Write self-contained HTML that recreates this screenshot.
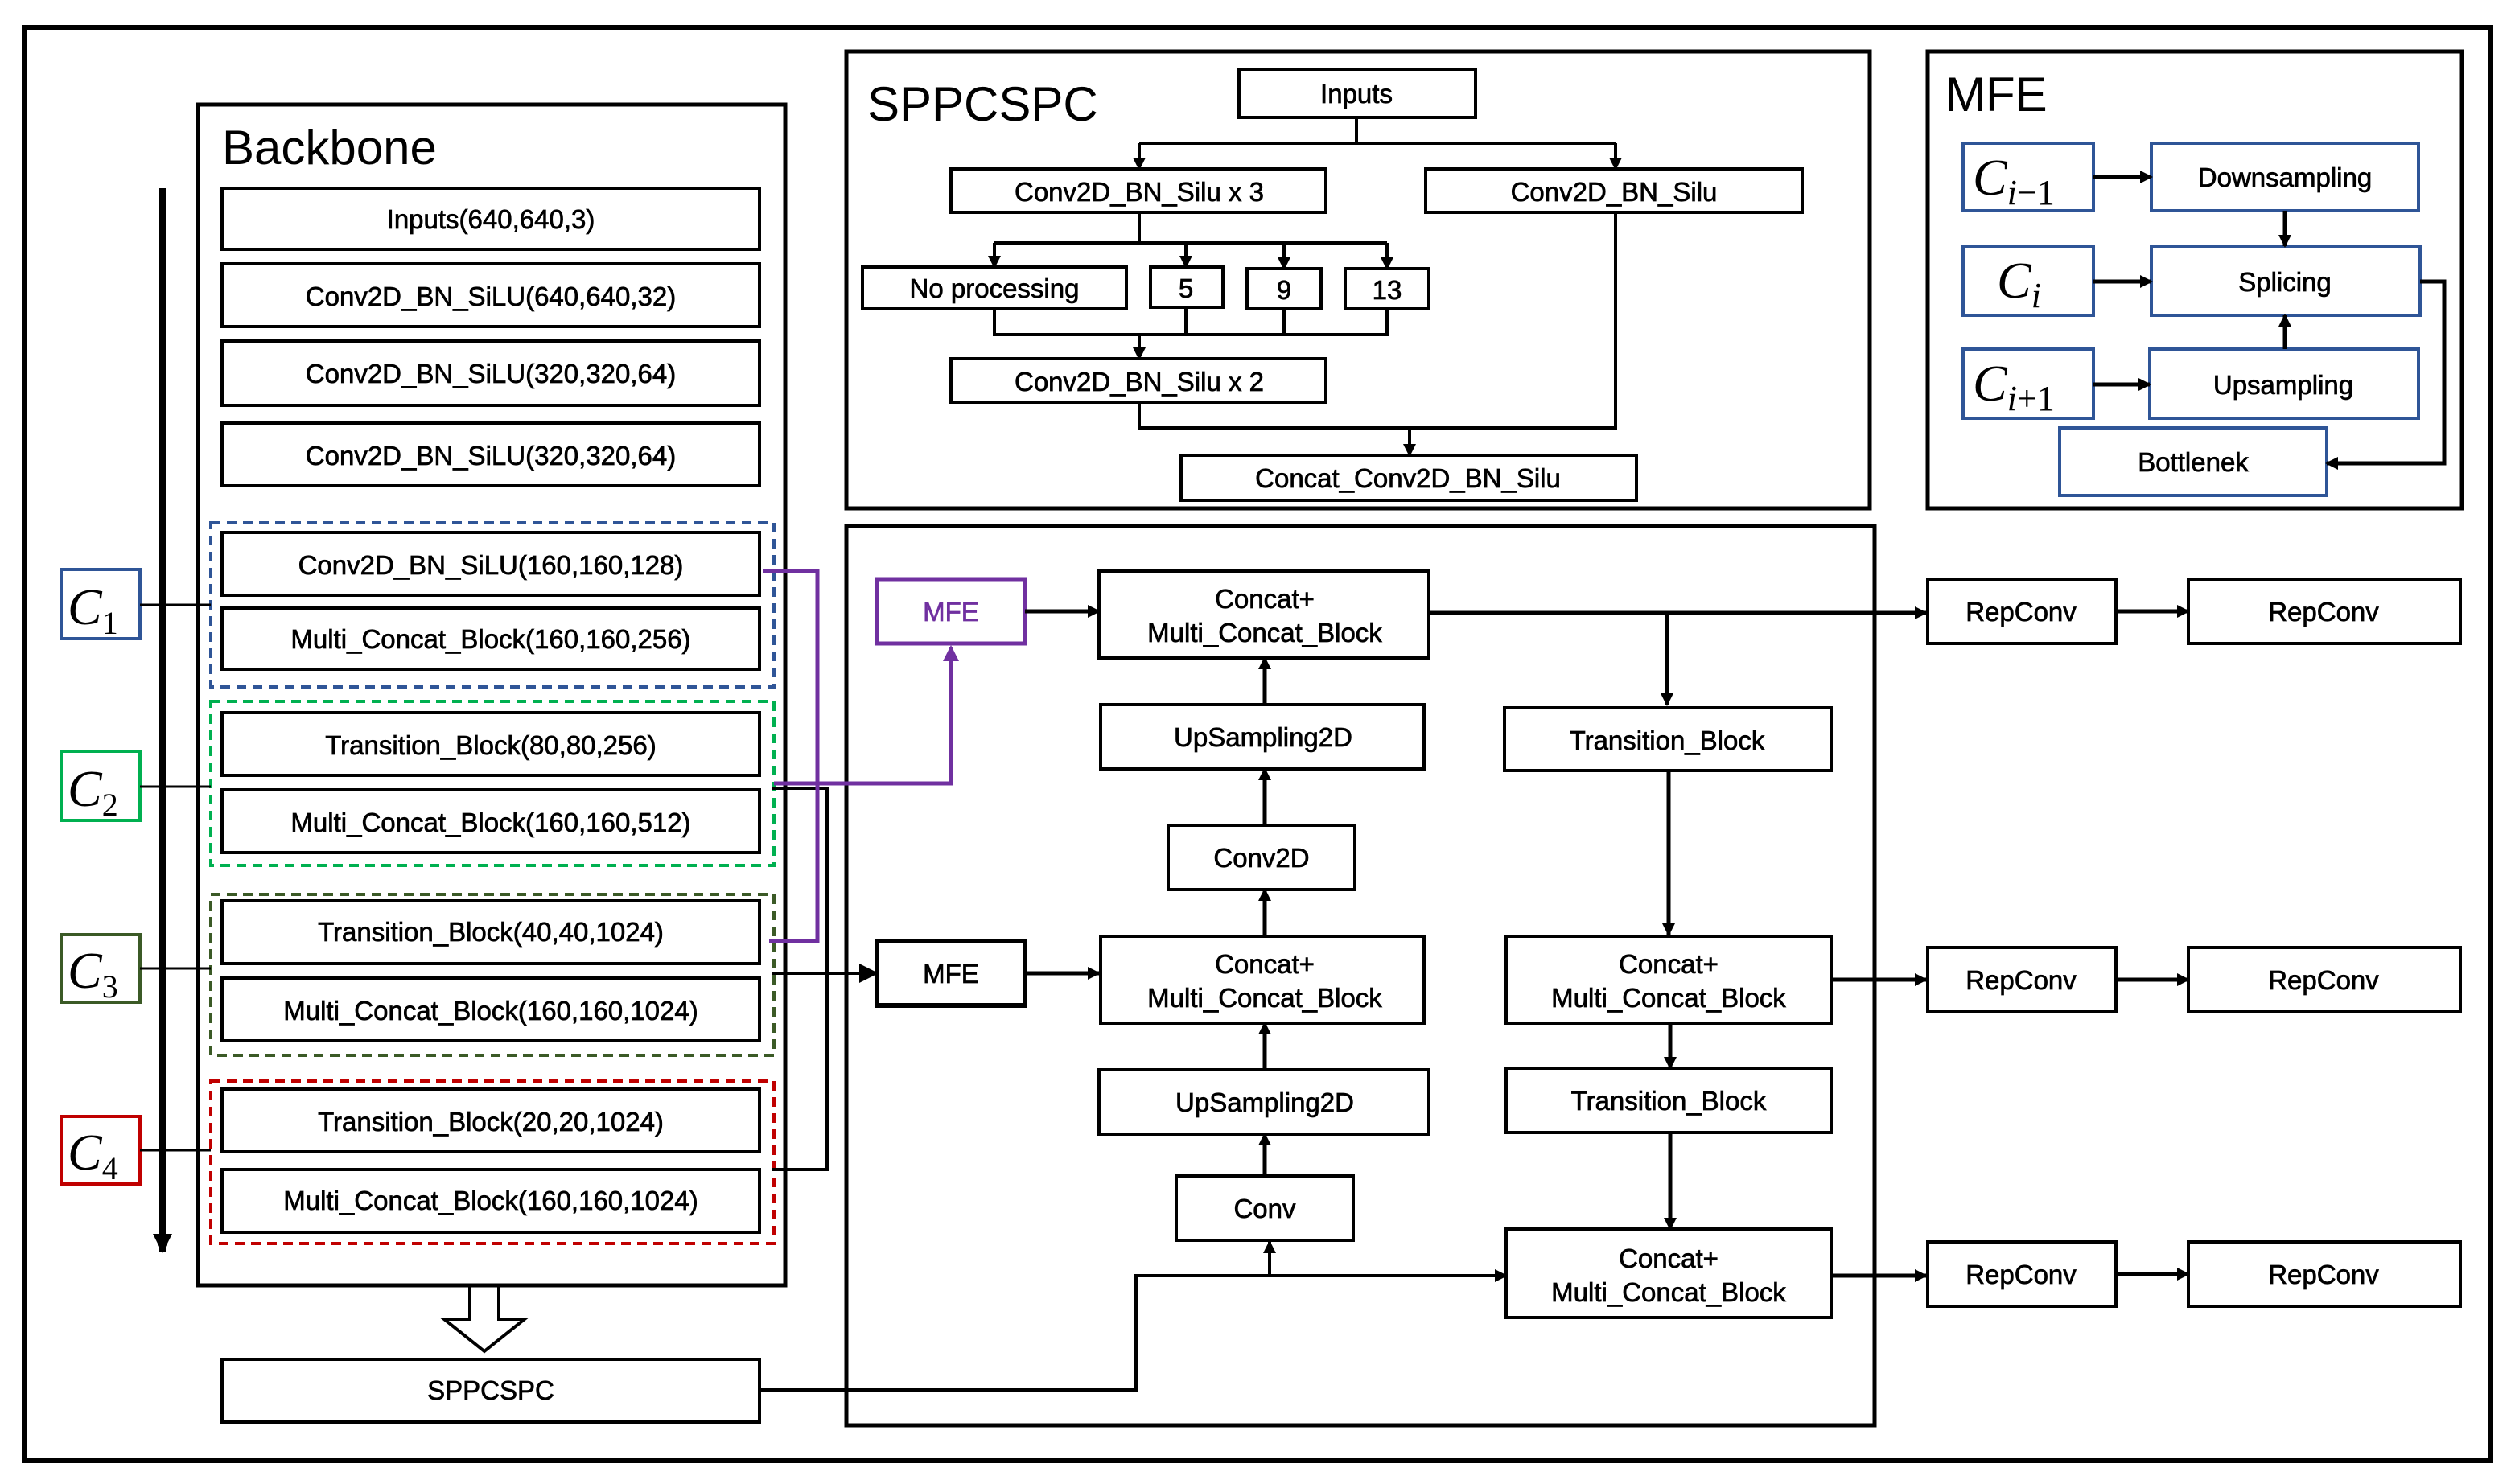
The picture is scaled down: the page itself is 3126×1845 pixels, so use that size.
<!DOCTYPE html>
<html><head><meta charset="utf-8"><style>html,body{margin:0;padding:0;background:#fff}svg{display:block}</style></head><body>
<svg xmlns="http://www.w3.org/2000/svg" width="3126" height="1845" viewBox="0 0 1563 922.5">
<defs>
<marker id="a" markerWidth="8" markerHeight="8" refX="7" refY="4" orient="auto" markerUnits="userSpaceOnUse"><path d="M0,0 L8,4 L0,8 z" fill="#000"/></marker>
<marker id="b" markerWidth="12" markerHeight="12" refX="11" refY="6" orient="auto" markerUnits="userSpaceOnUse"><path d="M0,0 L12,6 L0,12 z" fill="#000"/></marker>
<marker id="p" markerWidth="10" markerHeight="10" refX="9" refY="5" orient="auto" markerUnits="userSpaceOnUse"><path d="M0,0 L10,5 L0,10 z" fill="#7030A0"/></marker>
</defs>
<rect width="1563" height="922.5" fill="#fff"/>
<g fill="none" stroke="#000">
<rect x="15" y="17" width="1533" height="891" stroke-width="3"/>
<rect x="123" y="65" width="365" height="734" stroke-width="2.5"/>
<rect x="526" y="32" width="636" height="284" stroke-width="2.5"/>
<rect x="1198" y="32" width="332" height="284" stroke-width="2.5"/>
<rect x="526" y="327" width="639" height="559" stroke-width="2.5"/>
<g stroke-width="2">
<rect x="138" y="117" width="334" height="38"/><rect x="138" y="164" width="334" height="39"/>
<rect x="138" y="212" width="334" height="40"/><rect x="138" y="263" width="334" height="39"/>
<rect x="138" y="331" width="334" height="39"/><rect x="138" y="378" width="334" height="38"/>
<rect x="138" y="443" width="334" height="39"/><rect x="138" y="491" width="334" height="39"/>
<rect x="138" y="560" width="334" height="39"/><rect x="138" y="608" width="334" height="39"/>
<rect x="138" y="677" width="334" height="39"/><rect x="138" y="727" width="334" height="39"/>
<rect x="138" y="845" width="334" height="39"/>
</g>
<g stroke-width="2" stroke-dasharray="6,4">
<rect x="131" y="325" width="350" height="102" stroke="#2F5597"/>
<rect x="131" y="436" width="350" height="102" stroke="#00B050"/>
<rect x="131" y="556" width="350" height="100" stroke="#3B5A26"/>
<rect x="131" y="672" width="350" height="101" stroke="#C00000"/>
</g>
<g stroke-width="2">
<rect x="38" y="354" width="49" height="43" stroke="#2F5597"/>
<rect x="38" y="467" width="49" height="43" stroke="#00B050"/>
<rect x="38" y="581" width="49" height="42" stroke="#3B5A26"/>
<rect x="38" y="694" width="49" height="42" stroke="#C00000"/>
</g>
<path d="M87,376H131M87,489H131M87,602H131M87,715H131" stroke-width="1.5"/>
<path d="M101,117V778" stroke-width="4" marker-end="url(#b)"/>
<path d="M292,799H310V820H326L301,840L276,820H292Z" stroke-width="2"/>
<path d="M480,490H514V727H480" stroke-width="2"/>
<path d="M480,605H545" stroke-width="2" marker-end="url(#b)"/>
<path d="M472,864H706V793H936" stroke-width="2" marker-end="url(#a)"/>
<path d="M789,793V772" stroke-width="2" marker-end="url(#a)"/>
<g stroke="#7030A0" stroke-width="2.5">
<path d="M474,355H508V585H478"/>
<path d="M481,487H591V402" marker-end="url(#p)"/>
<rect x="545" y="360" width="92" height="40"/>
</g>
<g stroke-width="2">
<rect x="770" y="43" width="147" height="30"/>
<rect x="591" y="105" width="233" height="27"/><rect x="886" y="105" width="234" height="27"/>
<rect x="536" y="166" width="164" height="26"/><rect x="715" y="166" width="45" height="25"/>
<rect x="775" y="167" width="46" height="25"/><rect x="836" y="167" width="52" height="25"/>
<rect x="591" y="223" width="233" height="27"/><rect x="734" y="283" width="283" height="28"/>
<path d="M843,73V89M708,89H1004"/>
<path d="M708,89V105" marker-end="url(#a)"/><path d="M1004,89V105" marker-end="url(#a)"/>
<path d="M708,132V151M618,151H862"/>
<path d="M618,151V166" marker-end="url(#a)"/><path d="M737,151V166" marker-end="url(#a)"/>
<path d="M798,151V167" marker-end="url(#a)"/><path d="M862,151V167" marker-end="url(#a)"/>
<path d="M618,192V208H862V192M737,191V208M798,192V208"/>
<path d="M708,208V223" marker-end="url(#a)"/>
<path d="M708,250V266H1004V132"/><path d="M876,266V283" marker-end="url(#a)"/>
</g>
<g stroke="#2F5597" stroke-width="2">
<rect x="1220" y="89" width="81" height="42"/><rect x="1337" y="89" width="166" height="42"/>
<rect x="1220" y="153" width="81" height="43"/><rect x="1337" y="153" width="167" height="43"/>
<rect x="1220" y="217" width="81" height="43"/><rect x="1336" y="217" width="167" height="43"/>
<rect x="1280" y="266" width="166" height="42"/>
</g>
<g stroke-width="2.5">
<path d="M1301,110H1337" marker-end="url(#a)"/><path d="M1301,175H1337" marker-end="url(#a)"/>
<path d="M1301,239H1336" marker-end="url(#a)"/>
<path d="M1420,131V153" marker-end="url(#a)"/><path d="M1420,217V196" marker-end="url(#a)"/>
<path d="M1504,175H1519V288H1446" marker-end="url(#a)"/>
</g>
<g stroke-width="2">
<rect x="683" y="355" width="205" height="54"/>
<rect x="684" y="438" width="201" height="40"/>
<rect x="726" y="513" width="116" height="40"/>
<rect x="684" y="582" width="201" height="54"/>
<rect x="683" y="665" width="205" height="40"/>
<rect x="731" y="731" width="110" height="40"/>
<rect x="935" y="440" width="203" height="39"/>
<rect x="936" y="582" width="202" height="54"/>
<rect x="936" y="664" width="202" height="40"/>
<rect x="936" y="764" width="202" height="55"/>
<rect x="1198" y="360" width="117" height="40"/><rect x="1360" y="360" width="169" height="40"/>
<rect x="1198" y="589" width="117" height="40"/><rect x="1360" y="589" width="169" height="40"/>
<rect x="1198" y="772" width="117" height="40"/><rect x="1360" y="772" width="169" height="40"/>
</g>
<rect x="545" y="585" width="92" height="40" stroke-width="3"/>
<g stroke-width="2.5">
<path d="M637,380H683" marker-end="url(#a)"/><path d="M637,605H683" marker-end="url(#a)"/>
<path d="M888,381H1197" marker-end="url(#a)"/>
<path d="M1315,380H1360" marker-end="url(#a)"/>
<path d="M1036,381V438" marker-end="url(#a)"/>
<path d="M1037,479V581" marker-end="url(#a)"/>
<path d="M786,438V409" marker-end="url(#a)"/>
<path d="M786,513V478" marker-end="url(#a)"/>
<path d="M786,582V553" marker-end="url(#a)"/>
<path d="M786,665V636" marker-end="url(#a)"/>
<path d="M786,731V705" marker-end="url(#a)"/>
<path d="M1138,609H1197" marker-end="url(#a)"/><path d="M1315,609H1360" marker-end="url(#a)"/>
<path d="M1038,636V664" marker-end="url(#a)"/>
<path d="M1038,704V764" marker-end="url(#a)"/>
<path d="M1138,793H1197" marker-end="url(#a)"/><path d="M1315,792H1360" marker-end="url(#a)"/>
</g>
</g>
<g font-family="Liberation Sans, sans-serif" fill="#000">
<text x="138" y="102" font-size="30">Backbone</text>
<text x="539" y="75" font-size="30">SPPCSPC</text>
<text x="1209" y="69" font-size="30">MFE</text>
<g font-size="16.5" text-anchor="middle" stroke="#000" stroke-width="0.35">
<text x="305" y="142">Inputs(640,640,3)</text>
<text x="305" y="190">Conv2D_BN_SiLU(640,640,32)</text>
<text x="305" y="238">Conv2D_BN_SiLU(320,320,64)</text>
<text x="305" y="289">Conv2D_BN_SiLU(320,320,64)</text>
<text x="305" y="357">Conv2D_BN_SiLU(160,160,128)</text>
<text x="305" y="403">Multi_Concat_Block(160,160,256)</text>
<text x="305" y="469">Transition_Block(80,80,256)</text>
<text x="305" y="517">Multi_Concat_Block(160,160,512)</text>
<text x="305" y="585">Transition_Block(40,40,1024)</text>
<text x="305" y="634">Multi_Concat_Block(160,160,1024)</text>
<text x="305" y="703">Transition_Block(20,20,1024)</text>
<text x="305" y="752">Multi_Concat_Block(160,160,1024)</text>
<text x="305" y="870">SPPCSPC</text>
<text x="843" y="64">Inputs</text>
<text x="708" y="125">Conv2D_BN_Silu x 3</text>
<text x="1003" y="125">Conv2D_BN_Silu</text>
<text x="618" y="185">No processing</text>
<text x="737" y="185">5</text><text x="798" y="186">9</text><text x="862" y="186">13</text>
<text x="708" y="243">Conv2D_BN_Silu x 2</text>
<text x="875" y="303">Concat_Conv2D_BN_Silu</text>
<text x="1420" y="116">Downsampling</text>
<text x="1420" y="181">Splicing</text>
<text x="1419" y="245">Upsampling</text>
<text x="1363" y="293">Bottlenek</text>
<text x="591" y="386" fill="#7030A0" stroke="#7030A0">MFE</text>
<text x="591" y="611">MFE</text>
<text x="786" y="378">Concat+</text><text x="786" y="399">Multi_Concat_Block</text>
<text x="785" y="464">UpSampling2D</text>
<text x="784" y="539">Conv2D</text>
<text x="786" y="605">Concat+</text><text x="786" y="626">Multi_Concat_Block</text>
<text x="786" y="691">UpSampling2D</text>
<text x="786" y="757">Conv</text>
<text x="1036" y="466">Transition_Block</text>
<text x="1037" y="605">Concat+</text><text x="1037" y="626">Multi_Concat_Block</text>
<text x="1037" y="690">Transition_Block</text>
<text x="1037" y="788">Concat+</text><text x="1037" y="809">Multi_Concat_Block</text>
<text x="1256" y="386">RepConv</text><text x="1444" y="386">RepConv</text>
<text x="1256" y="615">RepConv</text><text x="1444" y="615">RepConv</text>
<text x="1256" y="798">RepConv</text><text x="1444" y="798">RepConv</text>
</g>
</g>
<g font-family="Liberation Serif, serif" fill="#000">
<text x="42" y="388" font-size="32" font-style="italic">C<tspan font-size="20" font-style="normal" dy="6">1</tspan></text>
<text x="42" y="501" font-size="32" font-style="italic">C<tspan font-size="20" font-style="normal" dy="6">2</tspan></text>
<text x="42" y="614" font-size="32" font-style="italic">C<tspan font-size="20" font-style="normal" dy="6">3</tspan></text>
<text x="42" y="727" font-size="32" font-style="italic">C<tspan font-size="20" font-style="normal" dy="6">4</tspan></text>
<text x="1226" y="121" font-size="32" font-style="italic">C<tspan font-size="22" dy="6">i</tspan><tspan font-size="22" font-style="normal">−1</tspan></text>
<text x="1241" y="185" font-size="32" font-style="italic">C<tspan font-size="22" dy="6">i</tspan></text>
<text x="1226" y="249" font-size="32" font-style="italic">C<tspan font-size="22" dy="6">i</tspan><tspan font-size="22" font-style="normal">+1</tspan></text>
</g>
</svg>
</body></html>
